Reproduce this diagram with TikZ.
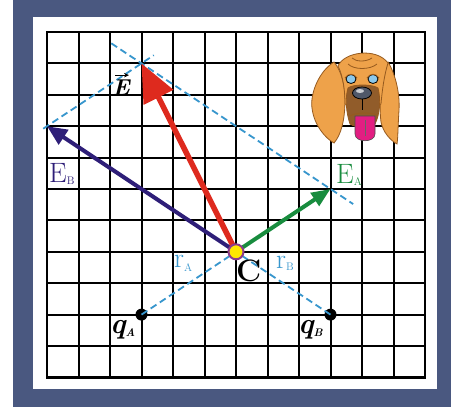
\documentclass[tikz,border=0pt]{standalone}
\usetikzlibrary{arrows.meta,calc}

\definecolor{framebg}{RGB}{74,88,128}
\definecolor{vecred}{RGB}{222,42,30}
\definecolor{vecblue}{RGB}{46,30,120}
\definecolor{vecgreen}{RGB}{24,140,62}
\definecolor{guide}{RGB}{55,150,205}
\definecolor{dotrim}{RGB}{140,60,140}
\definecolor{dotfill}{RGB}{255,232,0}
\definecolor{fur}{RGB}{238,162,74}
\definecolor{furdark}{RGB}{150,90,30}
\definecolor{muzzle}{RGB}{145,92,42}
\definecolor{tonguecol}{RGB}{226,30,130}
\definecolor{eyeblue}{RGB}{140,200,235}
\definecolor{nosegray}{RGB}{80,88,105}

\newcommand{\subsz}{\fontsize{11pt}{11pt}\selectfont}

\begin{document}
\begin{tikzpicture}[x=1pt,y=-1pt,
  gridline/.style={line width=2pt,black},
  guideline/.style={guide,line width=1.8pt,dash pattern=on 7pt off 4pt},
  redvec/.style={vecred,line width=5.5pt,-{Triangle[length=38pt,width=32pt]}},
  bluevec/.style={vecblue,line width=4pt,-{Triangle[length=20pt,width=17pt]}},
  greenvec/.style={vecgreen,line width=4pt,-{Triangle[length=19pt,width=15pt]}},
  chargedot/.style={circle,fill=black,minimum size=12pt,inner sep=0pt},
  pointdot/.style={circle,fill=dotfill,draw=dotrim,line width=2pt,minimum size=15pt,inner sep=0pt},
  biglbl/.style={inner sep=0pt,font=\fontsize{28pt}{28pt}\selectfont},
  boldlbl/.style={inner sep=0pt,font=\fontsize{29pt}{29pt}\selectfont\bfseries\itshape},
  furline/.style={draw=furdark,line width=0.8pt}]

\useasboundingbox (0,0) rectangle (451,407);
% frame and paper
\fill[white] (0,0) rectangle (451,407);
\fill[framebg] (13,0) rectangle (451,407);
\fill[white] (33,17) rectangle (437,389);

% squared paper, in cell units
\begin{scope}[shift={(47pt,-32pt)},x=31.5pt,y=-31.4pt]
  \foreach \i in {1,...,11} \draw[gridline] (\i,0) -- (\i,11);
  \foreach \j in {1,...,10} \draw[gridline] (0,\j) -- (12,\j);
  \draw[gridline,line width=2.4pt] (0,0) rectangle (12,11);

  \coordinate (C) at (6,7);
  \coordinate (Etip) at (3,1);
  \coordinate (EBtip) at (0,3);
  \coordinate (EAtip) at (9,5);
  \node[chargedot] (qA) at (3,9) {};
  \node[chargedot] (qB) at (9,9) {};

  % construction lines
  \draw[guideline] (qA.center) -- (C);
  \draw[guideline] (qB.center) -- (C);
  \draw[guideline] ($(EBtip)!-0.04!(Etip)$) -- ($(EBtip)!1.13!(Etip)$);
  \draw[guideline] ($(Etip)!-0.16!(EAtip)$) -- ($(Etip)!1.12!(EAtip)$);

  % field vectors
  \draw[bluevec] (C) -- (EBtip);
  \draw[greenvec] (C) -- (EAtip);
  \draw[redvec] (C) -- (Etip);

  \node[pointdot] (Cdot) at (C) {};
\end{scope}

% labels
\node[boldlbl,anchor=base,font=\fontsize{23pt}{23pt}\selectfont\bfseries\itshape] (lblE) at (121,95) {E};
\draw[line width=1.3pt,-{Stealth[length=5pt,width=4.5pt]}] ([xshift=-6pt,yshift=4pt]lblE.north) -- ([xshift=8pt,yshift=4pt]lblE.north);
\node[biglbl,anchor=base west,text=vecblue] (lblEB) at (49,182) {E\raisebox{-2pt}{\subsz B}};
\node[biglbl,anchor=base west,text=vecgreen] (lblEA) at (336,183) {E\raisebox{-2pt}{\subsz A}};
\node[biglbl,anchor=base west,text=guide] (lblrA) at (174,267) {r\raisebox{-4pt}{\subsz A}};
\node[biglbl,anchor=base west,text=guide] (lblrB) at (276,268) {r\raisebox{-2pt}{\subsz B}};
\node[biglbl,anchor=base west,font=\fontsize{31pt}{31pt}\selectfont\bfseries] (lblC) at (236,281) {C};
\node[boldlbl,anchor=base west] (lblqA) at (110,333) {q\raisebox{-3pt}{\subsz A}};
\node[boldlbl,anchor=base west] (lblqB) at (298,333) {q\raisebox{-3pt}{\subsz B}};

% bloodhound head
% ears
\filldraw[fill=fur,furline] (334,62) .. controls (318,72) and (310,95) .. (312,108)
  .. controls (314,125) and (325,138) .. (334,143)
  .. controls (341,135) and (345,120) .. (345,100)
  .. controls (345,85) and (341,70) .. (334,62) -- cycle;
\filldraw[fill=fur,furline] (388,62) .. controls (396,75) and (400,95) .. (399,110)
  .. controls (398,125) and (398,138) .. (397,144)
  .. controls (390,140) and (383,132) .. (381,122)
  .. controls (379,105) and (380,80) .. (388,62) -- cycle;
% skull and face
\filldraw[fill=fur,furline] (338,66) .. controls (344,52) and (376,47) .. (388,63)
  .. controls (384,76) and (382,92) .. (381,104)
  .. controls (372,108) and (354,108) .. (345,104)
  .. controls (345,90) and (343,76) .. (338,66) -- cycle;
\draw[furline] (352,58) .. controls (356,62) and (366,62) .. (372,58);
\draw[furline] (348,64) .. controls (354,70) and (370,70) .. (377,64);
% muzzle and jowls
\filldraw[fill=muzzle,furline] (348,88) .. controls (353,84) and (372,84) .. (378,88)
  .. controls (381,100) and (380,114) .. (375,124)
  .. controls (368,128) and (356,128) .. (350,124)
  .. controls (346,112) and (345,98) .. (348,88) -- cycle;
% eyes with droopy lids
\filldraw[fill=eyeblue,draw=black,line width=0.8pt] (351,79) ellipse (5pt and 4.5pt);
\filldraw[fill=eyeblue,draw=black,line width=0.8pt] (373,79) ellipse (5pt and 4.5pt);
\fill[fur] (345,78) .. controls (348,73) and (354,73) .. (357,78) -- (357,72) -- (345,72) -- cycle;
\fill[fur] (367,78) .. controls (370,73) and (376,73) .. (379,78) -- (379,72) -- (367,72) -- cycle;
\draw[furline] (345,78) .. controls (348,73) and (354,73) .. (357,78);
\draw[furline] (367,78) .. controls (370,73) and (376,73) .. (379,78);
% nose
\filldraw[fill=nosegray,draw=black,line width=0.8pt] (362,93) ellipse (9.5pt and 6pt);
\fill[white!70!nosegray] (360,91) ellipse (4pt and 2pt);
\draw[black,line width=0.7pt] (362,99) -- (362,110);
% tongue
\filldraw[fill=tonguecol,draw=black!70,line width=0.6pt] (355,116) -- (355,134)
  .. controls (355,143) and (375,143) .. (375,134) -- (375,116) -- cycle;
\draw[black!60,line width=0.6pt] (365,120) -- (365,136);
\draw[furline] (350,116) .. controls (356,112) and (374,112) .. (378,116);
\end{tikzpicture}
\end{document}
